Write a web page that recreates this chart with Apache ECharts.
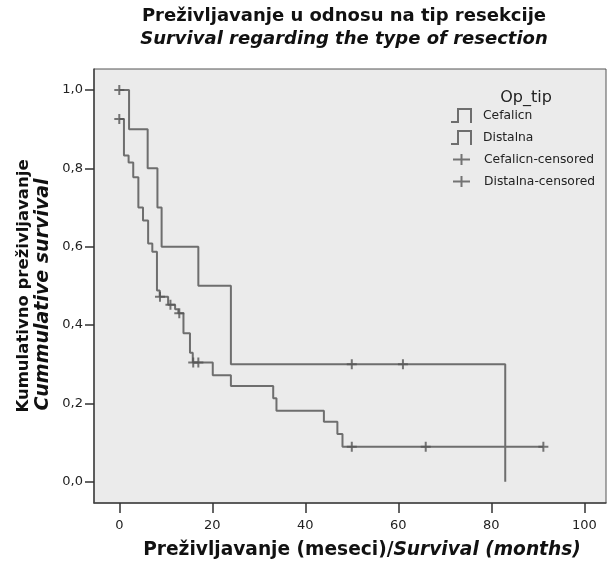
<!DOCTYPE html>
<html>
<head>
<meta charset="utf-8">
<script src="https://cdn.jsdelivr.net/npm/echarts@6/dist/echarts.min.js"></script>
<style>
html,body{margin:0;padding:0;background:#fff;}
#c{width:608px;height:563px;}
</style>
</head>
<body>
<div id="c"></div>
<script>
// ---- data ----
const xTicks = [0, 20, 40, 60, 80, 100];
const yTicks = [0, 0.2, 0.4, 0.6, 0.8, 1.0];

const cefTime = [0, 2.1, 6.1, 8.2, 9.1, 17, 24, 83];
const cefSurv = [1.0, 0.9, 0.8, 0.7, 0.6, 0.5, 0.3, 0.0];
const cefCensTime = [0, 50, 61];
const cefCensSurv = [1.0, 0.3, 0.3];

const disTime = [0, 1.0, 2.0, 3.0, 4.1, 5.1, 6.2, 7.1, 8.1, 8.7, 10.5, 12.0, 12.7, 13.8, 15.2, 15.8, 20.1, 24.0, 33.1, 33.8, 44.0, 46.9, 48.0, 91.2];
const disSurv = [0.926, 0.833, 0.815, 0.777, 0.700, 0.667, 0.608, 0.587, 0.488, 0.472, 0.452, 0.440, 0.430, 0.379, 0.329, 0.304, 0.272, 0.244, 0.213, 0.181, 0.153, 0.122, 0.089, 0.089];
const disCensTime = [0, 8.75, 11.0, 12.9, 15.9, 17.0, 50, 65.9, 91.2];
const disCensSurv = [0.926, 0.472, 0.452, 0.430, 0.304, 0.304, 0.089, 0.089, 0.089];

const seriesNames = ['Cefalicn', 'Distalna', 'Cefalicn-censored', 'Distalna-censored'];
const legendTitle = 'Op_tip';
const titleLine1 = 'Preživljavanje u odnosu na tip resekcije';
const titleLine2 = 'Survival regarding the type of resection';
const xTitleA = 'Preživljavanje (meseci)/';
const xTitleB = 'Survival (months)';
const yTitle1 = 'Kumulativno preživljavanje';
const yTitle2 = 'Cummulative survival';

// ---- build ----
const zip = (a, b) => a.map((v, i) => [v, b[i]]);
const FONT = '"DejaVu Sans", sans-serif';
const LINE = '#6e6e6e';
const MARK = '#555555';
const stepIcon = 'path://M0,13H6V0H21V15H19V2H8V15H0Z';
const plusIcon = 'path://M4,0H6V4H10V6H6V10H4V6H0V4H4Z';
const plusLegendIcon = 'path://M0,4.5H7.5V0H9.5V4.5H17V6.5H9.5V11H7.5V6.5H0Z';

const chart = echarts.init(document.getElementById('c'), null, {renderer: 'canvas'});
chart.setOption({
  animation: false,
  backgroundColor: '#ffffff',
  grid: {left: 94, top: 69, right: 2, bottom: 60, show: true,
    backgroundColor: '#ebebeb', borderColor: '#555', borderWidth: 1},
  xAxis: {
    type: 'value', min: -5.44, max: 104.67,
    axisLine: {show: true, onZero: false, lineStyle: {color: '#444', width: 1.5}},
    axisTick: {show: true, customValues: xTicks, length: 10, lineStyle: {color: '#333', width: 1.5}},
    axisLabel: {customValues: xTicks, margin: 16, color: '#222', fontFamily: FONT, fontSize: 13},
    splitLine: {show: false}
  },
  yAxis: {
    type: 'value', min: -0.0544, max: 1.0536,
    axisLine: {show: true, onZero: false, lineStyle: {color: '#444', width: 1.5}},
    axisTick: {show: true, customValues: yTicks, length: 9, lineStyle: {color: '#333', width: 1.5}},
    axisLabel: {customValues: yTicks, margin: 11, color: '#222', fontFamily: FONT, fontSize: 13,
      formatter: v => v.toFixed(1).replace('.', ',')},
    splitLine: {show: false}
  },
  legend: [
    {data: [{name: seriesNames[0], icon: stepIcon}, {name: seriesNames[1], icon: stepIcon}],
     orient: 'vertical', left: 451, top: 108, itemWidth: 21, itemHeight: 15, itemGap: 7,
     padding: 0, selectedMode: false,
     textStyle: {fontFamily: FONT, fontSize: 12.3, color: '#222', padding: [0, 0, 0, 6]}},
    {data: [{name: seriesNames[2], icon: plusLegendIcon}, {name: seriesNames[3], icon: plusLegendIcon}],
     orient: 'vertical', left: 453, top: 153.5, itemWidth: 17, itemHeight: 11, itemGap: 10,
     padding: 0, selectedMode: false,
     textStyle: {fontFamily: FONT, fontSize: 12.3, color: '#222', padding: [0, 0, 0, 9]}}
  ],
  series: [
    {name: seriesNames[0], type: 'line', step: 'end', data: zip(cefTime, cefSurv),
     symbol: 'none', color: LINE, lineStyle: {color: LINE, width: 2}, z: 2},
    {name: seriesNames[1], type: 'line', step: 'end', data: zip(disTime, disSurv),
     symbol: 'none', color: LINE, lineStyle: {color: LINE, width: 2}, z: 2},
    {name: seriesNames[2], type: 'scatter', data: zip(cefCensTime, cefCensSurv),
     symbol: plusIcon, symbolSize: 10, color: MARK, itemStyle: {color: MARK}, z: 3},
    {name: seriesNames[3], type: 'scatter', data: zip(disCensTime, disCensSurv),
     symbol: plusIcon, symbolSize: 10, color: MARK, itemStyle: {color: MARK}, z: 3}
  ],
  graphic: [
    {type: 'text', x: 344, y: 16, style: {text: titleLine1, align: 'center', verticalAlign: 'middle',
      font: 'bold 18px ' + FONT, fill: '#111'}},
    {type: 'text', x: 344, y: 39.5, style: {text: titleLine2, align: 'center', verticalAlign: 'middle',
      font: 'italic bold 18px ' + FONT, fill: '#111'}},
    {type: 'text', x: 362, y: 550, style: {
      text: '{a|' + xTitleA + '}{b|' + xTitleB + '}', align: 'center', verticalAlign: 'middle',
      rich: {a: {font: 'bold 18.6px ' + FONT, fill: '#111'}, b: {font: 'italic bold 18.6px ' + FONT, fill: '#111'}}}},
    {type: 'text', x: 24, y: 286, rotation: Math.PI / 2, style: {text: yTitle1, align: 'center', verticalAlign: 'middle',
      font: 'bold 16.5px ' + FONT, fill: '#111'}},
    {type: 'text', x: 43, y: 294.5, rotation: Math.PI / 2, style: {text: yTitle2, align: 'center', verticalAlign: 'middle',
      font: 'italic bold 19px ' + FONT, fill: '#111'}},
    {type: 'text', x: 526, y: 97.5, style: {text: legendTitle, align: 'center', verticalAlign: 'middle',
      font: '16px ' + FONT, fill: '#222'}}
  ]
});
</script>
</body>
</html>
